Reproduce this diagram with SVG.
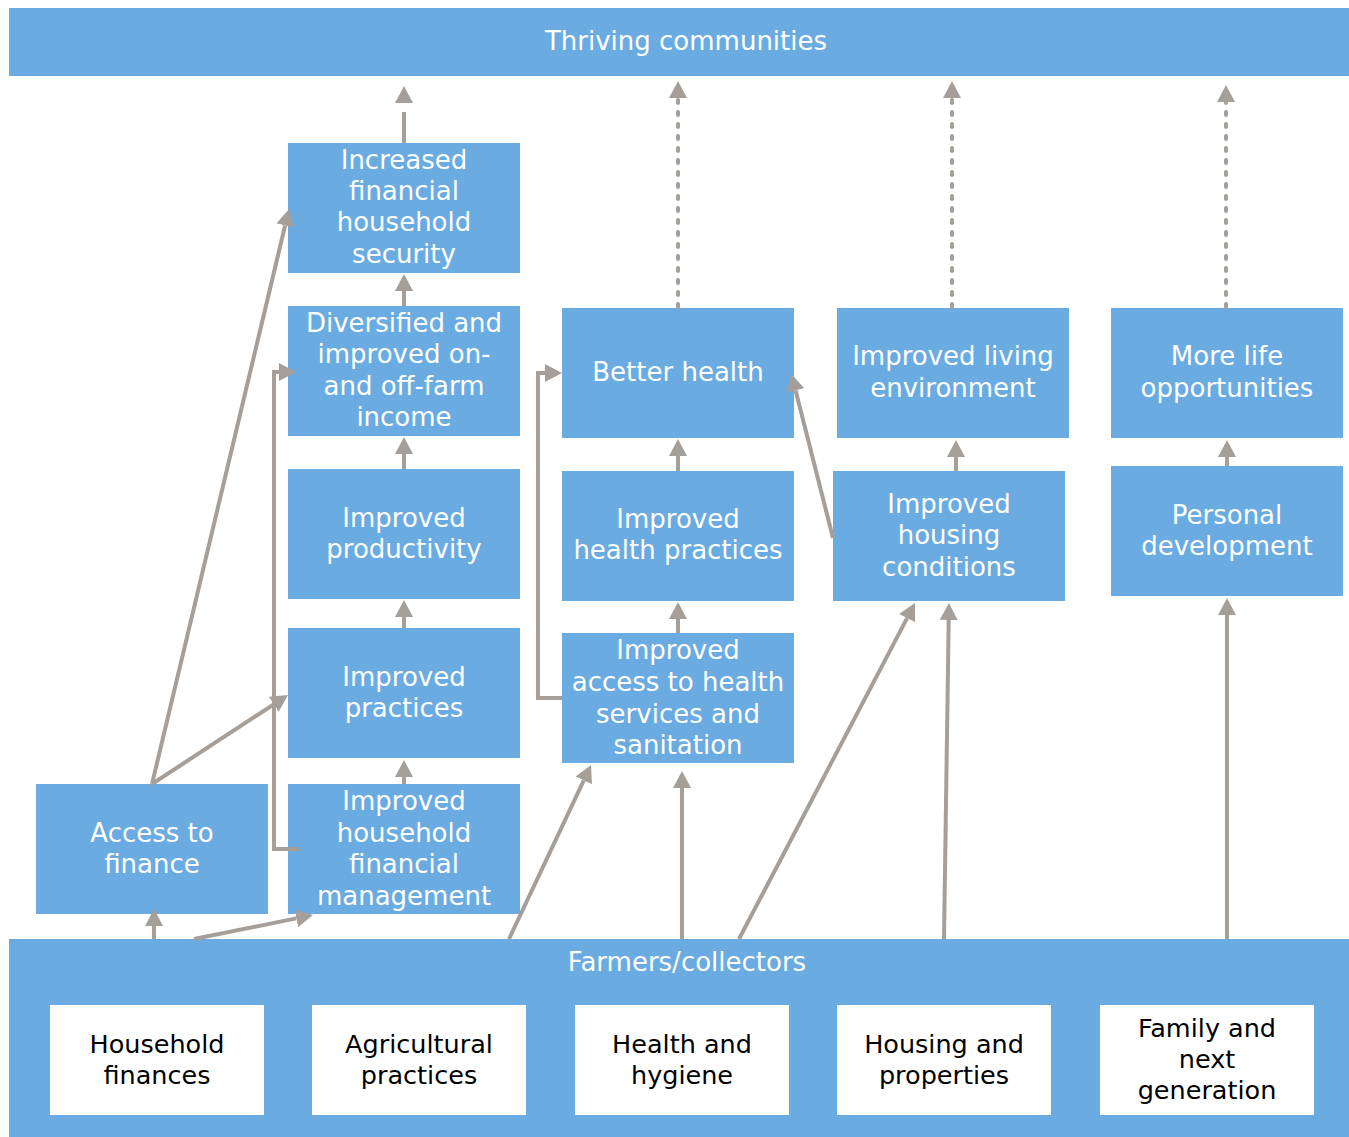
<svg xmlns="http://www.w3.org/2000/svg" width="1349" height="1137" viewBox="0 0 1349 1137">
  <style>
    .box { fill: #6aabe2; }
    .card { fill: #ffffff; }
    .lbl { font-family: "DejaVu Sans", Verdana, sans-serif; font-size: 26px; fill: #ffffff; text-anchor: middle; }
    .dark { font-family: "DejaVu Sans", Verdana, sans-serif; font-size: 25.5px; fill: #000000; text-anchor: middle; }
    .link { fill: none; stroke: #a69e98; stroke-width: 4; marker-end: url(#ah); }
    .dash { fill: none; stroke: #a69e98; stroke-width: 4; stroke-linecap: round; stroke-dasharray: 3 9; marker-end: url(#ah); }
  </style>
  <defs>
    <marker id="ah" viewBox="0 0 17 18" refX="0" refY="9" markerWidth="17" markerHeight="18" markerUnits="userSpaceOnUse" orient="auto">
      <path d="M0,0 L17,9 L0,18 z" fill="#a69e98"/>
    </marker>
    <marker id="ahGap" viewBox="-9 0 26 18" refX="-9" refY="9" markerWidth="26" markerHeight="18" markerUnits="userSpaceOnUse" orient="auto">
      <path d="M0,0 L17,9 L0,18 z" fill="#a69e98"/>
    </marker>
  </defs>

  <rect width="1349" height="1137" fill="#ffffff"/>

  <!-- top outcome -->
  <g id="thriving">
    <rect class="box" x="9" y="8" width="1340" height="68"/>
    <text class="lbl" x="686" y="50">Thriving communities</text>
  </g>

  <!-- base: farmers / collectors with its five areas -->
  <g id="farmers">
    <rect class="box" x="9" y="939" width="1340" height="198"/>
    <text class="lbl" x="687" y="971">Farmers/collectors</text>
  </g>
  <g id="household-finances">
    <rect class="card" x="50" y="1005" width="214" height="110"/>
    <text class="dark" x="157" y="1053">Household</text>
    <text class="dark" x="157" y="1084">finances</text>
  </g>
  <g id="agricultural-practices">
    <rect class="card" x="312" y="1005" width="214" height="110"/>
    <text class="dark" x="419" y="1053">Agricultural</text>
    <text class="dark" x="419" y="1084">practices</text>
  </g>
  <g id="health-hygiene">
    <rect class="card" x="575" y="1005" width="214" height="110"/>
    <text class="dark" x="682" y="1053">Health and</text>
    <text class="dark" x="682" y="1084">hygiene</text>
  </g>
  <g id="housing-properties">
    <rect class="card" x="837" y="1005" width="214" height="110"/>
    <text class="dark" x="944" y="1053">Housing and</text>
    <text class="dark" x="944" y="1084">properties</text>
  </g>
  <g id="family-next-generation">
    <rect class="card" x="1100" y="1005" width="214" height="110"/>
    <text class="dark" x="1207" y="1037">Family and</text>
    <text class="dark" x="1207" y="1068">next</text>
    <text class="dark" x="1207" y="1099">generation</text>
  </g>

  <!-- finance column -->
  <g id="access-to-finance">
    <rect class="box" x="36" y="784" width="232" height="130"/>
    <text class="lbl" x="152" y="842">Access to</text>
    <text class="lbl" x="152" y="873">finance</text>
  </g>
  <g id="increased-security">
    <rect class="box" x="288" y="143" width="232" height="130"/>
    <text class="lbl" x="404" y="169">Increased</text>
    <text class="lbl" x="404" y="200">financial</text>
    <text class="lbl" x="404" y="231">household</text>
    <text class="lbl" x="404" y="263">security</text>
  </g>
  <g id="diversified-income">
    <rect class="box" x="288" y="306" width="232" height="130"/>
    <text class="lbl" x="404" y="332">Diversified and</text>
    <text class="lbl" x="404" y="363">improved on-</text>
    <text class="lbl" x="404" y="395">and off-farm</text>
    <text class="lbl" x="404" y="426">income</text>
  </g>
  <g id="improved-productivity">
    <rect class="box" x="288" y="469" width="232" height="130"/>
    <text class="lbl" x="404" y="527">Improved</text>
    <text class="lbl" x="404" y="558">productivity</text>
  </g>
  <g id="improved-practices">
    <rect class="box" x="288" y="628" width="232" height="130"/>
    <text class="lbl" x="404" y="686">Improved</text>
    <text class="lbl" x="404" y="717">practices</text>
  </g>
  <g id="financial-management">
    <rect class="box" x="288" y="784" width="232" height="130"/>
    <text class="lbl" x="404" y="810">Improved</text>
    <text class="lbl" x="404" y="842">household</text>
    <text class="lbl" x="404" y="873">financial</text>
    <text class="lbl" x="404" y="905">management</text>
  </g>

  <!-- health column -->
  <g id="better-health">
    <rect class="box" x="562" y="308" width="232" height="130"/>
    <text class="lbl" x="678" y="381">Better health</text>
  </g>
  <g id="health-practices">
    <rect class="box" x="562" y="471" width="232" height="130"/>
    <text class="lbl" x="678" y="528">Improved</text>
    <text class="lbl" x="678" y="559">health practices</text>
  </g>
  <g id="health-access">
    <rect class="box" x="562" y="633" width="232" height="130"/>
    <text class="lbl" x="678" y="659">Improved</text>
    <text class="lbl" x="678" y="691">access to health</text>
    <text class="lbl" x="678" y="723">services and</text>
    <text class="lbl" x="678" y="754">sanitation</text>
  </g>

  <!-- housing column -->
  <g id="living-environment">
    <rect class="box" x="837" y="308" width="232" height="130"/>
    <text class="lbl" x="953" y="365">Improved living</text>
    <text class="lbl" x="953" y="397">environment</text>
  </g>
  <g id="housing-conditions">
    <rect class="box" x="833" y="471" width="232" height="130"/>
    <text class="lbl" x="949" y="513">Improved</text>
    <text class="lbl" x="949" y="544">housing</text>
    <text class="lbl" x="949" y="576">conditions</text>
  </g>

  <!-- family column -->
  <g id="life-opportunities">
    <rect class="box" x="1111" y="308" width="232" height="130"/>
    <text class="lbl" x="1227" y="365">More life</text>
    <text class="lbl" x="1227" y="397">opportunities</text>
  </g>
  <g id="personal-development">
    <rect class="box" x="1111" y="466" width="232" height="130"/>
    <text class="lbl" x="1227" y="524">Personal</text>
    <text class="lbl" x="1227" y="555">development</text>
  </g>

  <!-- connectors -->
  <g id="connectors">
    <!-- towards thriving communities -->
    <path class="link" style="marker-end:url(#ahGap)" d="M404,143 L404,112"/>
    <path class="dash" d="M678,307 L678,98"/>
    <path class="dash" d="M952,307 L952,98"/>
    <path class="dash" d="M1226,307 L1226,102"/>

    <!-- finance chain -->
    <path class="link" d="M404,306 L404,291"/>
    <path class="link" d="M404,469 L404,454"/>
    <path class="link" d="M404,628 L404,617"/>
    <path class="link" d="M404,784 L404,777"/>
    <path class="link" d="M152,784 L285.1,225.5"/>
    <path class="link" d="M152,784 L273.8,704.3"/>
    <path class="link" d="M300,849 H274 V372 H279"/>
    <path class="link" d="M154,939 L154,926"/>
    <path class="link" d="M194,939 L296.3,918.4"/>

    <!-- health chain -->
    <path class="link" d="M509,939 L583.8,780.4"/>
    <path class="link" d="M682,939 L682,788"/>
    <path class="link" d="M678,633 L678,619"/>
    <path class="link" d="M678,471 L678,456"/>
    <path class="link" d="M562,698 H538 V373 H545"/>

    <!-- housing chain -->
    <path class="link" d="M739,939 L907.1,618.1"/>
    <path class="link" d="M944,939 L948.7,620"/>
    <path class="link" d="M833,538 L795.6,390.5"/>
    <path class="link" d="M956,471 L956,457"/>

    <!-- family chain -->
    <path class="link" d="M1227,939 L1227,615"/>
    <path class="link" d="M1227,466 L1227,457"/>
  </g>
</svg>
